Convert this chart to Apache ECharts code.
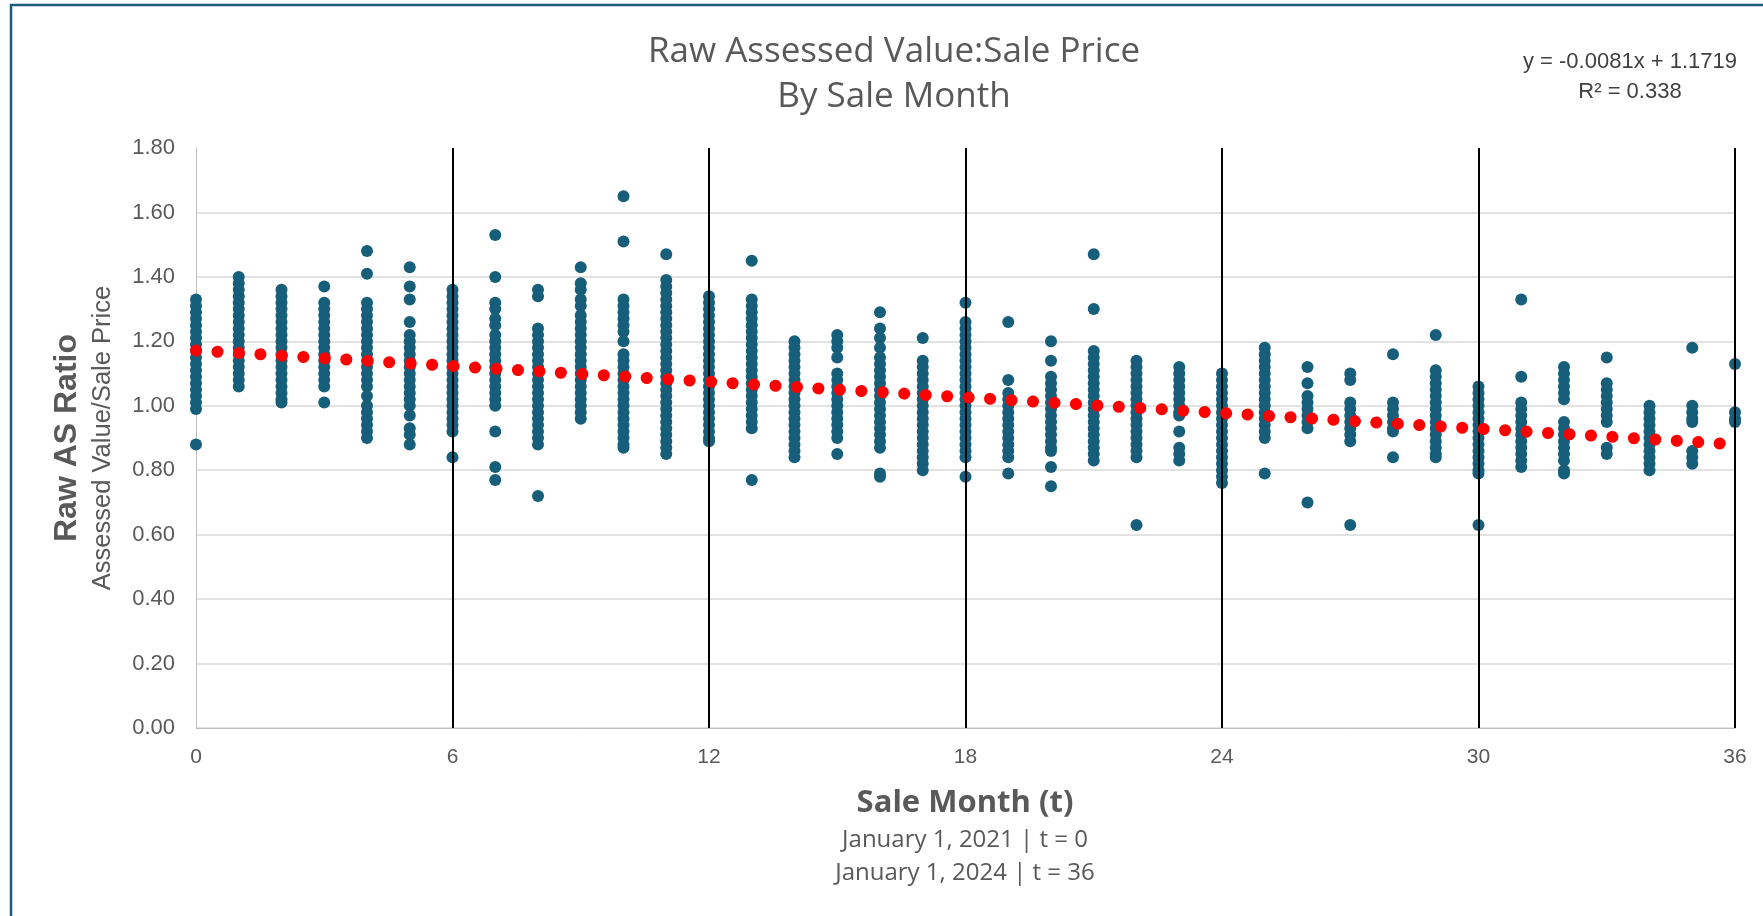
<!DOCTYPE html>
<html>
<head>
<meta charset="utf-8">
<script src="https://cdn.jsdelivr.net/npm/echarts@6/dist/echarts.min.js"></script>
<style>
  html, body { margin: 0; padding: 0; background: #fff; }
  #chart { width: 1763px; height: 916px; }
</style>
</head>
<body>
<div id="chart"></div>
<script>
// ratio values per sale month
const year1Ratios = [
  [1.33, 1.31, 1.29, 1.27, 1.25, 1.23, 1.21, 1.19, 1.17, 1.15, 1.13, 1.11, 1.09, 1.07, 1.05, 1.03, 1.01, 0.99, 0.88],
  [1.40, 1.38, 1.36, 1.34, 1.32, 1.30, 1.28, 1.26, 1.24, 1.22, 1.20, 1.18, 1.16, 1.14, 1.12, 1.10, 1.08, 1.06],
  [1.36, 1.34, 1.32, 1.30, 1.28, 1.26, 1.24, 1.22, 1.20, 1.18, 1.16, 1.14, 1.12, 1.10, 1.08, 1.06, 1.04, 1.02, 1.01],
  [1.37, 1.32, 1.30, 1.28, 1.26, 1.24, 1.22, 1.20, 1.18, 1.16, 1.14, 1.12, 1.10, 1.08, 1.06, 1.01],
  [1.48, 1.41, 1.32, 1.30, 1.28, 1.26, 1.24, 1.22, 1.20, 1.18, 1.16, 1.14, 1.12, 1.10, 1.08, 1.06, 1.03, 1.00, 0.98, 0.96, 0.94, 0.92, 0.90],
  [1.43, 1.37, 1.33, 1.26, 1.22, 1.20, 1.18, 1.16, 1.14, 1.12, 1.10, 1.08, 1.06, 1.04, 1.02, 1.00, 0.97, 0.93, 0.91, 0.88],
  [1.36, 1.34, 1.32, 1.30, 1.28, 1.26, 1.24, 1.22, 1.20, 1.18, 1.16, 1.14, 1.12, 1.10, 1.08, 1.06, 1.04, 1.02, 1.00, 0.98, 0.96, 0.94, 0.92, 0.84],
  [1.53, 1.40, 1.32, 1.30, 1.27, 1.25, 1.22, 1.20, 1.18, 1.16, 1.14, 1.12, 1.10, 1.08, 1.06, 1.04, 1.02, 1.00, 0.92, 0.81, 0.77],
  [1.36, 1.34, 1.24, 1.22, 1.20, 1.18, 1.16, 1.14, 1.12, 1.10, 1.08, 1.06, 1.04, 1.02, 1.00, 0.98, 0.96, 0.94, 0.92, 0.90, 0.88, 0.72],
  [1.43, 1.38, 1.36, 1.33, 1.31, 1.28, 1.26, 1.24, 1.22, 1.20, 1.18, 1.16, 1.14, 1.12, 1.10, 1.08, 1.06, 1.04, 1.02, 1.00, 0.98, 0.96],
  [1.65, 1.51, 1.33, 1.31, 1.29, 1.27, 1.25, 1.23, 1.20, 1.16, 1.14, 1.12, 1.10, 1.08, 1.06, 1.04, 1.02, 1.00, 0.98, 0.96, 0.94, 0.92, 0.90, 0.88, 0.87],
  [1.47, 1.39, 1.37, 1.35, 1.33, 1.31, 1.29, 1.27, 1.25, 1.23, 1.21, 1.19, 1.17, 1.15, 1.13, 1.11, 1.09, 1.07, 1.05, 1.03, 1.01, 0.99, 0.97, 0.95, 0.93, 0.91, 0.89, 0.87, 0.85]
];
const year2Ratios = [
  [1.34, 1.32, 1.30, 1.28, 1.26, 1.24, 1.22, 1.20, 1.18, 1.16, 1.14, 1.12, 1.10, 1.08, 1.06, 1.04, 1.02, 1.00, 0.98, 0.96, 0.94, 0.92, 0.90, 0.89],
  [1.45, 1.33, 1.31, 1.29, 1.27, 1.25, 1.23, 1.21, 1.19, 1.17, 1.15, 1.13, 1.11, 1.09, 1.07, 1.05, 1.03, 1.01, 0.99, 0.97, 0.95, 0.93, 0.77],
  [1.20, 1.18, 1.16, 1.14, 1.12, 1.10, 1.08, 1.06, 1.04, 1.02, 1.00, 0.98, 0.96, 0.94, 0.92, 0.90, 0.88, 0.86, 0.84],
  [1.22, 1.20, 1.18, 1.15, 1.10, 1.08, 1.06, 1.04, 1.02, 1.00, 0.98, 0.96, 0.94, 0.92, 0.90, 0.85],
  [1.29, 1.24, 1.21, 1.18, 1.15, 1.13, 1.11, 1.09, 1.07, 1.05, 1.03, 1.01, 0.99, 0.97, 0.95, 0.93, 0.91, 0.89, 0.87, 0.79, 0.78],
  [1.21, 1.14, 1.12, 1.10, 1.08, 1.06, 1.04, 1.02, 1.00, 0.98, 0.96, 0.94, 0.92, 0.90, 0.88, 0.86, 0.84, 0.82, 0.80],
  [1.32, 1.26, 1.24, 1.22, 1.20, 1.18, 1.16, 1.14, 1.12, 1.10, 1.08, 1.06, 1.04, 1.02, 1.00, 0.98, 0.96, 0.94, 0.92, 0.90, 0.88, 0.86, 0.84, 0.78],
  [1.26, 1.08, 1.04, 1.02, 1.00, 0.98, 0.96, 0.94, 0.92, 0.90, 0.88, 0.86, 0.84, 0.79],
  [1.20, 1.14, 1.09, 1.07, 1.05, 1.03, 1.01, 0.99, 0.97, 0.95, 0.93, 0.91, 0.89, 0.87, 0.86, 0.81, 0.75],
  [1.47, 1.30, 1.17, 1.15, 1.13, 1.11, 1.09, 1.07, 1.05, 1.03, 1.01, 0.99, 0.97, 0.95, 0.93, 0.91, 0.89, 0.87, 0.85, 0.83],
  [1.14, 1.12, 1.10, 1.08, 1.06, 1.04, 1.02, 1.00, 0.98, 0.96, 0.94, 0.92, 0.90, 0.88, 0.86, 0.84, 0.63],
  [1.12, 1.10, 1.08, 1.06, 1.04, 1.02, 1.00, 0.98, 0.97, 0.92, 0.87, 0.85, 0.83]
];
const year3Ratios = [
  [1.10, 1.08, 1.06, 1.04, 1.02, 1.00, 0.98, 0.96, 0.94, 0.92, 0.90, 0.88, 0.86, 0.84, 0.82, 0.80, 0.78, 0.76],
  [1.18, 1.16, 1.14, 1.12, 1.10, 1.08, 1.06, 1.04, 1.02, 1.00, 0.98, 0.96, 0.94, 0.92, 0.90, 0.79],
  [1.12, 1.07, 1.03, 1.01, 0.99, 0.97, 0.95, 0.93, 0.70],
  [1.10, 1.08, 1.01, 0.99, 0.97, 0.95, 0.93, 0.91, 0.89, 0.63],
  [1.16, 1.01, 0.99, 0.97, 0.95, 0.93, 0.92, 0.84],
  [1.22, 1.11, 1.09, 1.07, 1.05, 1.03, 1.01, 0.99, 0.97, 0.95, 0.93, 0.91, 0.89, 0.87, 0.85, 0.84],
  [1.06, 1.04, 1.02, 1.00, 0.98, 0.96, 0.94, 0.92, 0.90, 0.88, 0.86, 0.84, 0.82, 0.80, 0.79, 0.63],
  [1.33, 1.09, 1.01, 0.99, 0.97, 0.95, 0.93, 0.91, 0.89, 0.87, 0.85, 0.83, 0.81],
  [1.12, 1.10, 1.08, 1.06, 1.04, 1.02, 0.95, 0.93, 0.91, 0.89, 0.87, 0.85, 0.83, 0.80, 0.79],
  [1.15, 1.07, 1.05, 1.03, 1.01, 0.99, 0.97, 0.95, 0.87, 0.85],
  [1.00, 0.98, 0.96, 0.94, 0.92, 0.90, 0.88, 0.86, 0.84, 0.82, 0.80],
  [1.18, 1.00, 0.98, 0.96, 0.95, 0.86, 0.84, 0.82],
  [1.13, 0.98, 0.96, 0.95]
];

// linear trend, end points at t = 0 and t = 36
const trendMonths = [0, 36];
const trendRatios = [1.1719, 0.8803];

const titleLines = ['Raw Assessed Value:Sale Price', 'By Sale Month'];
const trendLabel = ['y = -0.0081x + 1.1719', 'R\u00b2 = 0.338'];
const xTitle = 'Sale Month (t)';
const xNotes = ['January 1, 2021 | t = 0', 'January 1, 2024 | t = 36'];

const points = [];
year1Ratios.concat(year2Ratios, year3Ratios).forEach(function (col, month) {
  col.forEach(function (v) { points.push([month, v]); });
});
const trendData = trendMonths.map(function (m, i) { return [m, trendRatios[i]]; });

const gray = '#595959';
const chart = echarts.init(document.getElementById('chart'));
chart.setOption({
  animation: false,
  backgroundColor: '#fff',
  grid: { left: 196, right: 28, top: 148, bottom: 188 },
  xAxis: {
    type: 'value', min: 0, max: 36, interval: 6, z: 3,
    axisLine: { lineStyle: { color: '#bfbfbf', width: 1 } },
    axisTick: { show: false },
    axisLabel: { color: gray, fontSize: 21, margin: 19, fontFamily: 'Liberation Sans' },
    splitLine: { show: true, showMinLine: false, lineStyle: { color: '#000', width: 2 } }
  },
  yAxis: {
    type: 'value', min: 0, max: 1.8, interval: 0.2,
    axisLine: { show: true, lineStyle: { color: '#bfbfbf', width: 1 } },
    axisTick: { show: false },
    axisLabel: {
      color: gray, fontSize: 22, margin: 21, fontFamily: 'Liberation Sans',
      formatter: function (v) { return v.toFixed(2); }
    },
    splitLine: { show: true, showMaxLine: false, lineStyle: { color: '#d9d9d9', width: 1.5 } }
  },
  series: [
    {
      type: 'scatter', data: points, symbolSize: 12, z: 2,
      itemStyle: { color: '#165e7a', opacity: 1 }
    },
    {
      type: 'line', data: trendData, symbol: 'none', z: 5,
      lineStyle: { color: '#ff0000', width: 12, type: [0.1, 21.4], cap: 'round' }
    }
  ],
  graphic: [
    { type: 'rect', shape: { x: 11, y: 5, width: 1800, height: 1000 }, style: { fill: 'none', stroke: '#1b5d78', lineWidth: 2.5 } },
    { type: 'text', style: { x: 894, y: 52, text: titleLines[0], align: 'center', verticalAlign: 'middle', fill: gray, fontSize: 35, fontFamily: 'Open Sans' } },
    { type: 'text', style: { x: 894, y: 97, text: titleLines[1], align: 'center', verticalAlign: 'middle', fill: gray, fontSize: 35, fontFamily: 'Open Sans' } },
    { type: 'text', style: { x: 1630, y: 62, text: trendLabel[0], align: 'center', verticalAlign: 'middle', fill: '#404040', fontSize: 22, fontFamily: 'Liberation Sans' } },
    { type: 'text', style: { x: 1630, y: 92, text: trendLabel[1], align: 'center', verticalAlign: 'middle', fill: '#404040', fontSize: 22, fontFamily: 'Liberation Sans' } },
    { type: 'text', x: 67, y: 438, rotation: Math.PI / 2, style: { x: 0, y: 0, text: 'Raw AS Ratio', align: 'center', verticalAlign: 'middle', fill: gray, fontSize: 32, fontWeight: 'bold', fontFamily: 'Liberation Sans' } },
    { type: 'text', x: 103, y: 438, rotation: Math.PI / 2, style: { x: 0, y: 0, text: 'Assessed Value/Sale Price', align: 'center', verticalAlign: 'middle', fill: gray, fontSize: 25.5, fontFamily: 'Liberation Sans' } },
    { type: 'text', style: { x: 965, y: 803, text: xTitle, align: 'center', verticalAlign: 'middle', fill: gray, fontSize: 31, fontWeight: 'bold', fontFamily: 'Open Sans' } },
    { type: 'text', style: { x: 965, y: 840, text: xNotes[0], align: 'center', verticalAlign: 'middle', fill: gray, fontSize: 24, fontFamily: 'Open Sans' } },
    { type: 'text', style: { x: 965, y: 873, text: xNotes[1], align: 'center', verticalAlign: 'middle', fill: gray, fontSize: 24, fontFamily: 'Open Sans' } }
  ]
});
</script>
</body>
</html>
